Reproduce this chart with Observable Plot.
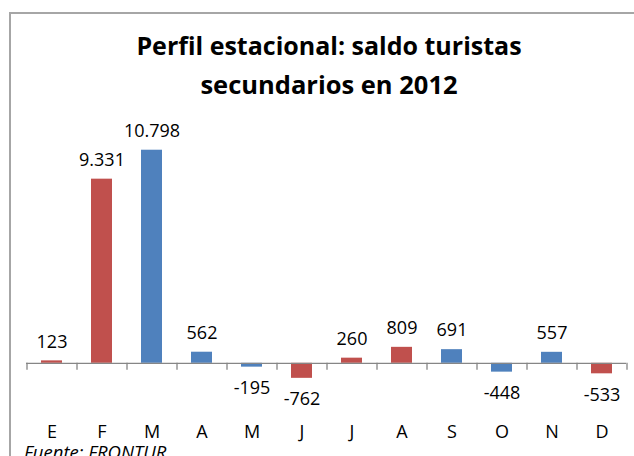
<!DOCTYPE html>
<html>
<head>
<meta charset="utf-8">
<script src="https://cdn.jsdelivr.net/npm/d3@7"></script>
<script src="https://cdn.jsdelivr.net/npm/@observablehq/plot@0.6"></script>
<style>
  html, body { margin: 0; padding: 0; background: #fff; }
  #wrap { position: relative; width: 634px; height: 456px; overflow: hidden; background: #fff; font-family: "Open Sans", sans-serif; }
  #frame { position: absolute; left: 9px; top: 12px; width: 700px; height: 500px; border-top: 2px solid #a6a6a6; border-left: 2px solid #a6a6a6; box-sizing: border-box; }
  #title { position: absolute; left: 0; width: 658px; top: 26px; text-align: center; font-weight: 700; font-size: 25px; line-height: 39px; color: #000; }
  #title .l2 { font-size: 25.5px; }
  #chart { position: absolute; left: 0; top: 100px; }
  #source { position: absolute; left: 24px; top: 440px; font-style: italic; font-size: 18.5px; line-height: 24px; color: #000; }
</style>
</head>
<body>
<div id="wrap">
  <div id="frame"></div>
  <div id="title">Perfil estacional: saldo turistas<br><span class="l2">secundarios en 2012</span></div>
  <div id="chart"></div>
  <div id="source">Fuente: FRONTUR</div>
</div>
<script>
const months = ["E","F","M","A","M","J","J","A","S","O","N","D"];
const values = [123, 9331, 10798, 562, -195, -762, 260, 809, 691, -448, 557, -533];
const colors = ["#C0504D","#C0504D","#4F81BD","#4F81BD","#4F81BD","#C0504D","#C0504D","#C0504D","#4F81BD","#4F81BD","#4F81BD","#C0504D"];

const data = months.map((m, i) => ({i, m, v: values[i], c: colors[i]}));
const fmt = d3.formatLocale({decimal: ",", thousands: ".", grouping: [3], currency: ["", " €"], minus: "-"}).format(",d");

const chart = Plot.plot({
  width: 634,
  height: 356,
  marginTop: 26,
  marginBottom: 34,
  marginLeft: 26,
  marginRight: 8,
  style: {fontFamily: "'Open Sans', sans-serif", color: "#000", background: "transparent"},
  x: {domain: d3.range(12), paddingInner: 0.58, paddingOuter: 0.29, axis: null},
  y: {domain: [-3000, 12000], axis: null},
  marks: [
    Plot.barY(data, {x: "i", y: "v", fill: "c"}),
    Plot.ruleY([0], {stroke: "#868686", strokeWidth: 1.3}),
    Plot.ruleX(data, {x: "i", y1: 0, y2: 0, dx: -25, insetBottom: -7, stroke: "#868686", strokeWidth: 1.3}),
    Plot.ruleX(data.slice(-1), {x: "i", y1: 0, y2: 0, dx: 25, insetBottom: -7, stroke: "#868686", strokeWidth: 1.3}),
    Plot.text(data.filter(d => d.v >= 0), {x: "i", y: "v", text: d => fmt(d.v), dy: -19, fontSize: 18, fill: "#000"}),
    Plot.text(data.filter(d => d.v < 0), {x: "i", y: "v", text: d => fmt(d.v), dy: 21, fontSize: 18, fill: "#000"}),
    Plot.axisX({tickSize: 0, tickPadding: 3, tickFormat: i => months[i], fontSize: 18, fill: "#000", label: null})
  ]
});
document.getElementById("chart").appendChild(chart);
</script>
</body>
</html>
